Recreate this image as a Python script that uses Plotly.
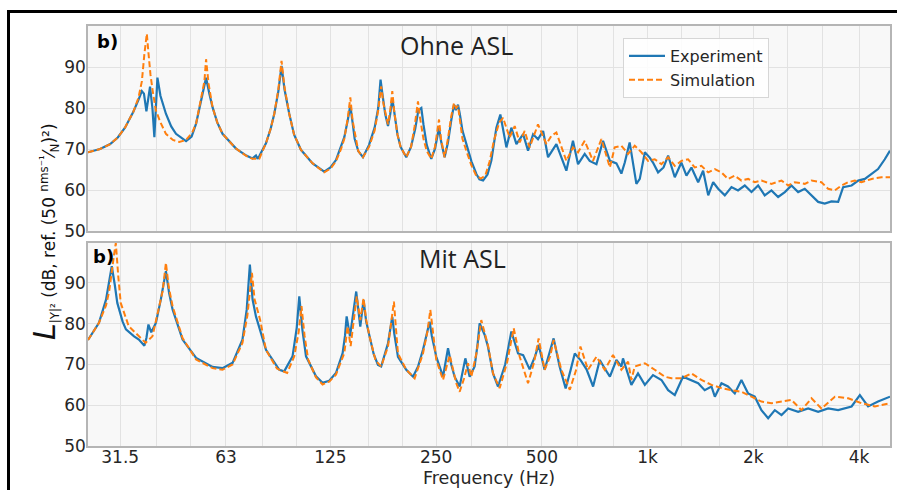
import math
import plotly.graph_objects as go

# ---------------- data ----------------
top_exp_f = [25.5, 27.6, 29.5, 31.0, 32.5, 34.3, 35.5, 36.3, 36.8, 37.4, 38.3, 38.9, 39.4, 39.8, 40.2, 41.0,
             42.5, 44.0, 45.4, 48.5, 50.3, 51.8, 53.5, 55.3, 56.5, 57.7, 59.5, 61.6, 67.3, 72.0, 75.0, 76.7,
             77.5, 78.4, 81.9, 84.5, 86.5, 88.8, 90.7, 92.5, 95.4, 98.5, 103, 111.2, 120, 125, 129.6, 134,
             136.9, 140, 142.4, 144.5, 146.5, 150, 154.7, 161, 167, 171, 173.6, 176, 179, 182.3, 185, 187.5,
             190, 194, 198, 205.5, 212, 218, 222.5, 226.8, 230, 235, 242.1, 248, 254.7, 258, 264.2, 270, 276,
             281, 284.5, 288.5, 292, 297, 304.8, 315, 325.4, 332, 340, 350, 359, 365, 371, 380.8, 396.2, 409.3,
             423.1, 442.2, 456.6, 472, 487.4, 504, 520.6, 549.9, 568, 587, 613, 633.7, 662, 684, 715, 746.6,
             781, 815, 842, 861, 889, 909, 929, 950, 982, 1014, 1036, 1071, 1110, 1144, 1195, 1248, 1290,
             1333, 1393, 1439, 1488, 1537, 1588, 1659, 1733, 1809, 1891, 1976, 2064, 2155, 2252, 2353, 2459,
             2568, 2683, 2802, 2929, 3059, 3194, 3338, 3488, 3604, 3809, 3978, 4155, 4345, 4530, 4735, 4900]
top_exp_db = [69.2, 70.0, 71.2, 72.8, 75.2, 79.0, 82.0, 84.1, 83.5, 79.2, 85.2, 80.0, 72.9, 80.0, 87.4, 83.0,
              78.6, 75.5, 73.7, 71.9, 73.0, 76.2, 81.9, 87.4, 83.5, 80.2, 76.5, 73.7, 70.1, 68.4, 67.7, 68.4,
              67.6, 68.3, 71.4, 75.0, 78.6, 84.0, 90.3, 84.5, 78.6, 73.5, 69.8, 66.5, 64.5, 65.5, 67.3, 70.5,
              72.9, 77.0, 80.6, 76.5, 72.5, 69.5, 68.0, 71.0, 75.2, 80.0, 86.9, 83.0, 78.5, 75.6, 78.5, 82.4,
              78.5, 73.5, 70.5, 68.0, 70.5, 75.0, 79.5, 80.0, 76.0, 71.0, 67.6, 70.0, 75.2, 72.0, 68.0, 71.5, 77.0,
              80.8, 79.5, 80.8, 78.5, 74.5, 71.2, 67.0, 63.9, 62.6, 62.3, 63.8, 67.2, 71.0, 75.2, 78.4, 70.4, 75.2,
              71.2, 73.6, 69.6, 73.6, 72.4, 74.4, 68.0, 71.2, 68.0, 64.7, 72.0, 66.3, 68.8, 67.1, 66.3, 72.0,
              67.1, 66.5, 64.0, 66.7, 71.6, 66.7, 61.5, 62.7, 69.2, 67.9, 66.7, 64.3, 65.5, 68.4, 63.1, 66.7, 63.5,
              65.5, 61.9, 64.7, 58.7, 61.9, 60.3, 58.7, 60.7, 59.9, 61.1, 59.5, 61.1, 58.7, 59.9, 58.3, 59.5,
              61.1, 59.5, 60.3, 58.7, 57.1, 56.7, 57.2, 57.1, 60.7, 61.1, 62.3, 62.7, 63.9, 65.1, 67.5, 69.6]

top_sim_f = [25.5, 27.6, 29.5, 31.0, 32.5, 34.3, 35.5, 36.3, 36.9, 37.5, 37.9, 38.4, 39.0, 39.8, 41.0, 42.5,
             44.5, 46.4, 48.5, 50.5, 51.8, 53.5, 54.7, 55.3, 56.2, 57.7, 59.5, 61.6, 67.3, 72.0, 75.0, 78.4,
             81.9, 84.5, 86.5, 88.8, 90.7, 92.5, 95.4, 98.5, 103, 111.2, 120, 125, 129.6, 134, 136.9, 140,
             142.4, 144.5, 147.8, 150, 154.7, 161, 167, 171, 174.3, 177, 182.3, 185, 187.5, 190, 194, 198,
             205.5, 212, 217, 221.9, 225, 230, 235, 242.1, 248, 254.7, 258, 264.2, 270, 276, 281, 285, 288.5,
             292, 297, 304.8, 315, 325, 335, 345, 355, 365, 378, 387.6, 404.8, 418.4, 432.3, 446.7, 461.4,
             487.4, 515, 532, 549.9, 587, 613, 633.7, 662, 699, 738.6, 781, 806, 842, 880, 919, 960, 1003,
             1048, 1095, 1144, 1195, 1248, 1304, 1362, 1423, 1488, 1554, 1623, 1694, 1771, 1850, 1933, 2019,
             2109, 2252, 2406, 2514, 2624, 2802, 2929, 3126, 3266, 3414, 3563, 3726, 3889, 4066, 4345, 4633, 4900]
top_sim_db = [69.2, 70.0, 71.2, 72.8, 75.2, 79.0, 82.5, 86.5, 93.1, 98.1, 93.5, 88.2, 84.0, 79.4, 76.5, 73.7,
              72.2, 71.7, 72.2, 74.0, 76.2, 81.9, 86.5, 91.9, 86.0, 80.2, 76.5, 73.7, 70.1, 68.3, 67.6, 67.6,
              71.4, 75.0, 78.6, 84.5, 91.5, 85.0, 78.6, 73.5, 69.8, 66.5, 64.3, 65.2, 67.0, 70.0, 72.5, 77.5,
              82.6, 77.0, 72.0, 69.5, 68.0, 70.5, 74.5, 79.5, 85.3, 81.0, 76.0, 79.5, 84.1, 79.0, 73.5, 70.5,
              68.0, 70.5, 75.5, 81.6, 77.5, 72.5, 69.5, 67.6, 70.5, 77.2, 72.5, 68.0, 72.5, 78.0, 81.2, 80.0, 80.5,
              77.0, 72.5, 69.5, 66.0, 63.5, 62.8, 63.5, 67.0, 72.0, 76.5, 77.6, 72.8, 75.6, 71.6, 74.4, 70.4,
              76.0, 71.2, 73.2, 74.0, 67.1, 70.4, 69.2, 72.0, 67.1, 72.4, 65.5, 70.4, 70.8, 68.8, 70.8, 69.2, 67.1,
              67.5, 66.3, 68.0, 65.9, 67.1, 67.5, 65.5, 65.9, 64.3, 65.1, 64.3, 62.7, 63.5, 62.3, 62.7, 61.9,
              62.3, 61.5, 62.3, 61.1, 61.9, 61.5, 62.3, 61.9, 60.3, 59.9, 61.1, 61.9, 62.3, 61.9, 62.7, 63.1, 63.1]

bot_exp_f = [25.5, 27.4, 28.7, 29.3, 29.8, 30.4, 30.9, 32.0, 32.7, 34.5, 35.6, 36.9, 37.4, 37.9, 38.6, 39.8,
             41.1, 42.5, 43.4, 44.4, 47.4, 51.8, 57.7, 61.6, 65.8, 70.2, 72.2, 73.7, 75.0, 76.7, 81.9, 89.4,
             92.3, 97.5, 100.2, 101.9, 104, 106.5, 113.7, 118.7, 124, 129.6, 135.4, 137.5, 139.0, 142.1, 145,
             148, 152, 155.3, 158, 161.6, 166, 170.7, 174.3, 182.3, 187.5, 190, 194.6, 205.5, 214.8, 222,
             229.3, 235, 239.5, 243, 250.2, 261.5, 270.2, 276, 282.1, 291.6, 302.7, 311.4, 321.7, 328, 332.4,
             343.5, 351, 362.9, 375, 393, 409.3, 418, 427.6, 442.2, 461.4, 478, 489.4, 509, 528, 540, 561.6,
             584.3, 603, 620.3, 645, 670, 699.5, 730.8, 755, 781, 815, 842, 851, 899, 939, 982, 1036, 1095,
             1144, 1195, 1261, 1318, 1393, 1454, 1520, 1554, 1623, 1694, 1771, 1850, 1933, 2019, 2109, 2204,
             2303, 2406, 2514, 2683, 2865, 3059, 3266, 3488, 3809, 4021, 4245, 4530, 4900]
bot_exp_db = [76.0, 80.2, 85.9, 90.0, 94.1, 89.5, 85.1, 80.5, 78.6, 76.9, 76.1, 74.6, 76.5, 79.8, 77.9, 80.2,
              85.9, 92.9, 87.5, 83.5, 76.1, 71.6, 69.4, 69.1, 70.4, 76.1, 83.5, 94.5, 86.0, 81.8, 73.6, 68.7,
              68.3, 72.0, 79.0, 86.7, 78.5, 72.0, 67.1, 65.5, 66.0, 67.9, 72.8, 77.0, 81.8, 76.9, 82.5,
              87.9, 79.3, 85.8, 80.5, 76.8, 72.5, 69.9, 69.5, 75.2, 81.7, 77.5, 71.9, 68.7, 67.0, 69.5,
              73.6, 77.5, 80.5, 77.0, 71.9, 67.0, 74.0, 70.0, 67.0, 64.6, 71.5, 67.0, 69.5, 75.0, 80.1,
              77.3, 74.4, 67.8, 64.6, 70.0, 78.1, 75.5, 72.7, 72.3, 68.8, 72.0, 74.8, 68.7, 73.5, 76.4, 69.5,
              64.1, 68.5, 72.7, 71.0, 68.8, 64.6, 71.1, 69.0, 67.0, 71.1, 69.5, 71.5, 65.0, 67.8, 65.0, 67.4, 66.2,
              63.7, 62.5, 67.0, 66.2, 65.4, 63.7, 64.6, 62.1, 65.4, 64.6, 62.9, 66.2, 62.9, 62.1, 58.8, 56.8,
              58.8, 57.6, 59.2, 58.4, 59.2, 58.4, 59.2, 58.8, 59.7, 62.5, 59.7, 60.9, 62.1]

bot_sim_f = [25.5, 27.4, 28.7, 29.3, 30.3, 30.6, 31.1, 31.6, 33.3, 35.6, 37.2, 38.9, 40.6, 41.6, 42.5, 43.3,
             44.4, 47.4, 51.8, 57.7, 61.6, 65.8, 70.2, 72.5, 74.7, 76.0, 78.8, 81.9, 88, 94.1, 98.6, 101.5,
             103.4, 105.5, 108.0, 113.7, 118.7, 124, 129.6, 136.9, 139.9, 142.7, 145.5, 148.5, 152, 155.3,
             158, 161.6, 168, 174.3, 182.3, 186, 189.5, 192, 194.6, 205.5, 217.1, 229.3, 236, 240.6, 245,
             250.2, 261.5, 273.2, 285.2, 291.6, 300, 308.1, 314.8, 326, 336, 343.5, 351, 362.9, 379.1, 398,
             415.6, 432.3, 456.6, 475, 489.4, 509, 528, 540, 568, 600.4, 625, 643.8, 676.7, 715, 754.8, 797,
             842, 880, 899, 919, 982, 1048, 1119, 1169, 1248, 1333, 1423, 1520, 1623, 1733, 1850, 1976, 2109,
             2252, 2406, 2568, 2743, 2929, 3126, 3414, 3726, 4066, 4440, 4900]
bot_sim_db = [76.0, 80.2, 84.5, 88.0, 97.4, 99.8, 91.6, 85.1, 79.4, 76.9, 75.3, 76.9, 83.5, 88.0, 94.9, 89.0,
              84.3, 76.5, 71.2, 69.1, 68.7, 70.0, 75.3, 82.0, 92.5, 86.0, 81.0, 73.6, 69.0, 67.9, 72.0, 78.0,
              84.3, 77.0, 71.2, 66.8, 65.1, 65.8, 67.5, 72.8, 79.4, 74.5, 80.5, 86.7, 80.9, 86.2,
              81.0, 76.8, 71.0, 69.5, 74.4, 79.5, 85.4, 79.0, 72.7, 68.7, 66.6, 72.7, 78.0, 83.4, 77.0,
              71.1, 66.2, 72.3, 65.4, 63.3, 66.5, 70.3, 67.0, 73.0, 80.9, 77.6, 74.8, 67.8, 64.2, 70.5,
              78.9, 71.9, 65.4, 70.5, 76.4, 68.7, 72.0, 76.0, 68.7, 63.8, 68.5, 74.4, 68.7, 71.9, 68.7, 72.3,
              68.7, 70.7, 66.2, 69.5, 70.3, 68.7, 67.0, 66.6, 66.6, 67.8, 66.2, 65.0, 64.2, 63.7, 63.3, 62.1, 60.9,
              60.5, 60.9, 61.3, 58.8, 61.7, 59.2, 62.1, 61.7, 60.5, 59.7, 60.5]

grid_f = [25, 31.5, 40, 50, 63, 80, 100, 125, 160, 200, 250, 315, 400, 500, 630, 800,
          1000, 1250, 1600, 2000, 2500, 3150, 4000]
octave_labels = {31.5: "31.5", 63: "63", 125: "125", 250: "250", 500: "500",
                 1000: "1k", 2000: "2k", 4000: "4k"}
y_ticks = [50, 60, 70, 80, 90]

# ---------------- figure ----------------
W, H = 897, 490
BLUE = "#1f77b4"
ORANGE = "#ff7f0e"
FONT = "DejaVu Sans"

def px_x(x):
    return x / W

def px_y(y):
    return 1 - y / H

fig = go.Figure()
fig.add_trace(go.Scatter(x=top_exp_f, y=top_exp_db, mode="lines", name="Experiment",
                         line=dict(color=BLUE, width=2.2), xaxis="x", yaxis="y"))
fig.add_trace(go.Scatter(x=top_sim_f, y=top_sim_db, mode="lines", name="Simulation",
                         line=dict(color=ORANGE, width=2, dash="6px,3px"), xaxis="x", yaxis="y"))
fig.add_trace(go.Scatter(x=bot_exp_f, y=bot_exp_db, mode="lines", name="Experiment", showlegend=False,
                         line=dict(color=BLUE, width=2.2), xaxis="x2", yaxis="y2"))
fig.add_trace(go.Scatter(x=bot_sim_f, y=bot_sim_db, mode="lines", name="Simulation", showlegend=False,
                         line=dict(color=ORANGE, width=2, dash="6px,3px"), xaxis="x2", yaxis="y2"))

xr = [math.log10(25.5), math.log10(4900)]
ticktext = [octave_labels.get(f, "") for f in grid_f]
common_x = dict(type="log", range=xr, domain=[px_x(88), px_x(890)], tickvals=grid_f, ticktext=ticktext,
                showgrid=True, gridcolor="#e2e2e2", gridwidth=1, showline=True, linecolor="#b5b5b5",
                linewidth=1.5, mirror=True, ticks="", zeroline=False,
                tickfont=dict(family=FONT, size=17, color="#262626"))
common_y = dict(tickvals=y_ticks, showgrid=True, gridcolor="#e2e2e2", gridwidth=1, showline=True,
                linecolor="#b5b5b5", linewidth=1.5, mirror=True, ticks="", zeroline=False,
                ticklabelstandoff=-3,
                tickfont=dict(family=FONT, size=17, color="#262626"))

fig.update_layout(
    width=W, height=H,
    margin=dict(l=0, r=0, t=0, b=0, autoexpand=False),
    paper_bgcolor="white", plot_bgcolor="#f8f8f8",
    xaxis=dict(common_x, anchor="y", showticklabels=False),
    yaxis=dict(common_y, anchor="x", range=[50, 100], domain=[px_y(231), px_y(26)]),
    xaxis2=dict(common_x, anchor="y2", matches="x", showticklabels=True, ticklabelstandoff=-5),
    yaxis2=dict(common_y, anchor="x2", range=[50, 99.8], domain=[px_y(446), px_y(243)]),
    legend=dict(x=px_x(623), y=px_y(38), xanchor="left", yanchor="top",
                bgcolor="rgba(255,255,255,0.85)", bordercolor="#d6d6d6", borderwidth=1,
                font=dict(family=FONT, size=16, color="#262626"), tracegroupgap=0,
                itemwidth=36),
    showlegend=True,
)

def note(x, y, text, size, family=FONT, color="#222222", **kw):
    fig.add_annotation(x=px_x(x), y=px_y(y), xref="paper", yref="paper", text=text,
                       showarrow=False, xanchor="center", yanchor="middle",
                       font=dict(family=family, size=size, color=color), **kw)

# panel texts
note(457, 45, "Ohne ASL", 25, family="Open Sans")
note(462, 258, "Mit ASL", 25, family="Open Sans")
note(107, 41, "<b>b)</b>", 18, color="black")
note(103, 256, "<b>b)</b>", 18, color="black")
note(489, 478, "Frequency (Hz)", 17.5, color="#262626")
note(44, 232,
     ('<span style="font-size:30px"><i>L</i></span>'
      '<sub>|Y|²</sub>'
      ' (dB, ref. (50 <sup>nms⁻¹</sup>⁄<sub>N</sub>)²)'),
     17, color="#111111", textangle=-90)

# outer black frame
fig.add_shape(type="rect", xref="paper", yref="paper", x0=px_x(8.5), y0=-0.05, x1=1.05, y1=px_y(11.5),
              line=dict(color="black", width=3), fillcolor="rgba(0,0,0,0)", layer="above")

fig.write_html("out.html")
